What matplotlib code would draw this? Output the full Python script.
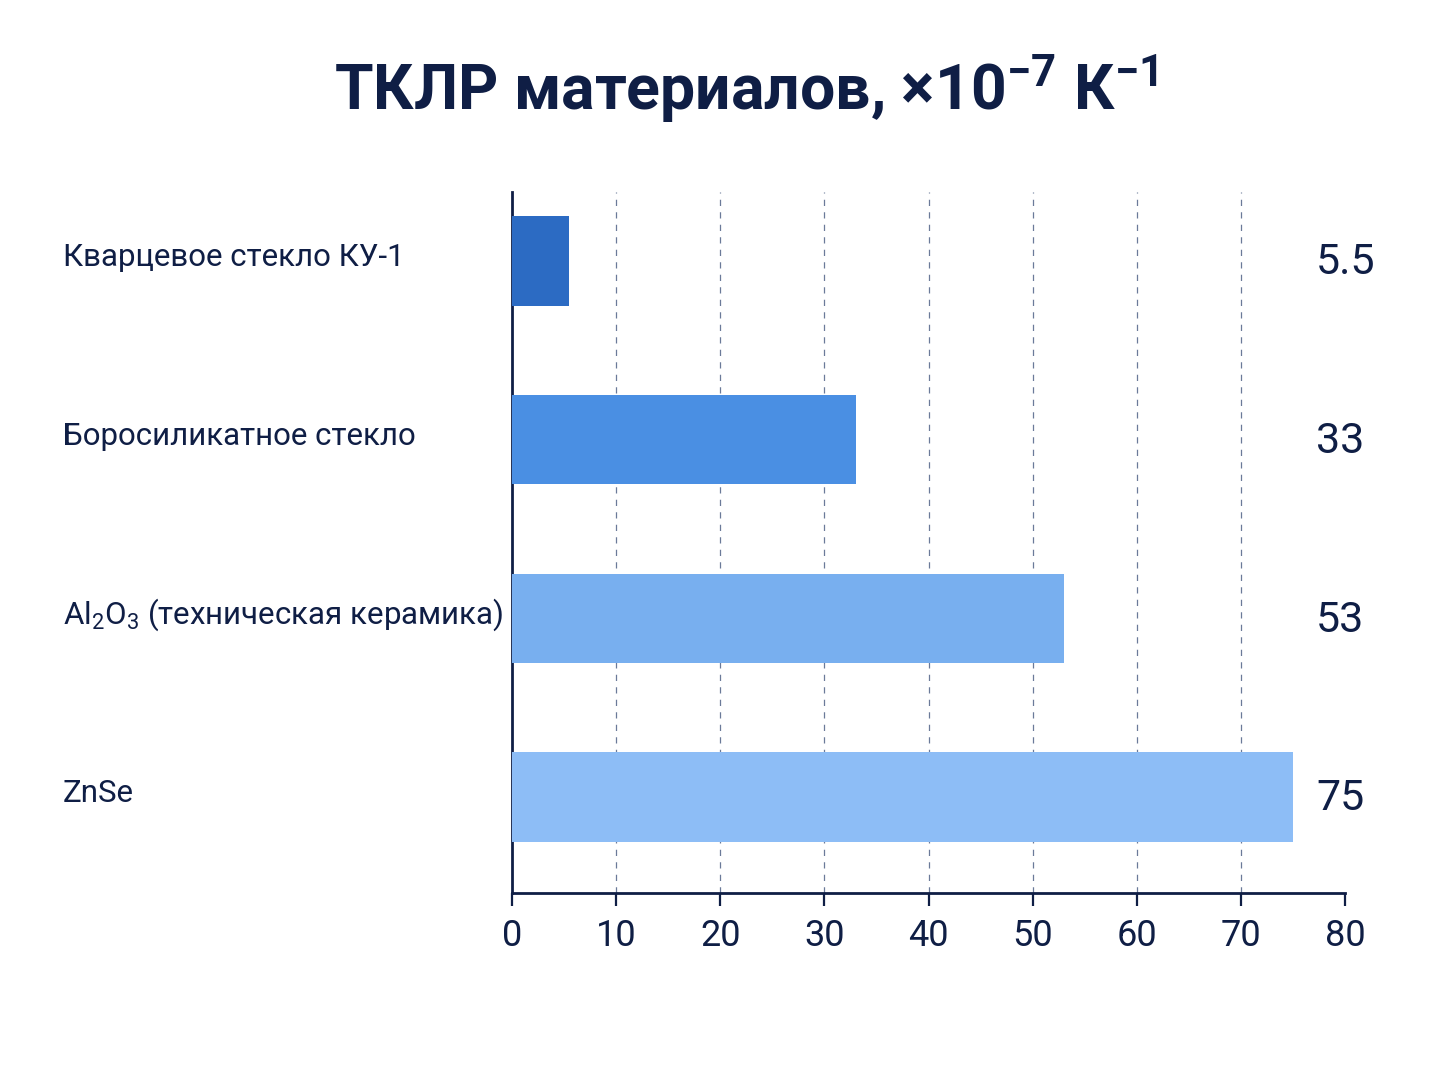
import matplotlib
matplotlib.use("Agg")
import matplotlib.pyplot as plt
from matplotlib import transforms

categories = ["Кварцевое стекло КУ-1", "Боросиликатное стекло",
              r"Al$_\mathregular{2}$O$_\mathregular{3}$ (техническая керамика)", "ZnSe"]
values = [5.5, 33, 53, 75]
value_labels = ["5.5", "33", "53", "75"]
colors = ["#2C6BC3", "#4A8FE3", "#78AFEF", "#8DBDF6"]
xticks = [0, 10, 20, 30, 40, 50, 60, 70, 80]
title = r"ТКЛР материалов, ×10$^{\mathbf{-7}}$ К$^{\mathbf{-1}}$"

fam = "Roboto"
plt.rcParams["font.family"] = [fam, "DejaVu Sans"]
plt.rcParams["mathtext.fontset"] = "custom"
plt.rcParams["mathtext.rm"] = fam
plt.rcParams["mathtext.bf"] = fam + ":bold"

navy = "#0F1E45"
fig = plt.figure(figsize=(14.48, 10.86), dpi=100)
ax = fig.add_axes([0.3536, 0.1777, 0.5753, 0.6455])
ypos = list(range(len(categories)))
ax.barh(ypos, values, height=0.5, color=colors, zorder=3)
ax.set_xlim(0, 80)
ax.set_ylim(3.537, -0.386)
ax.set_xticks(xticks)
ax.set_xticklabels([str(t) for t in xticks], fontsize=26, color=navy)
ax.set_yticks([])
for s in ["top", "right"]:
    ax.spines[s].set_visible(False)
for s in ["left", "bottom"]:
    ax.spines[s].set_color(navy)
    ax.spines[s].set_linewidth(2)
ax.tick_params(axis="x", length=9, width=1.6, color=navy, pad=9)
for t in xticks[1:-1]:
    ax.axvline(t, color="#6B7A99", linestyle=(0, (5, 5)), linewidth=0.9, zorder=1)

tr = transforms.blended_transform_factory(fig.transFigure, ax.transData)
for y, lab in zip(ypos, categories):
    ax.text(63 / 1448, y - 0.02, lab, transform=tr, fontsize=22.5, color=navy,
            ha="left", va="center")
for y, lab in zip(ypos, value_labels):
    ax.text(1316 / 1448, y + 0.01, lab, transform=tr,
            fontsize=31, color=navy, ha="left", va="center")

fig.text(0.515, 0.918, title, fontsize=45, fontweight="bold", color=navy, ha="center", va="center")
fig.savefig("out.png", dpi=100, facecolor="white")
